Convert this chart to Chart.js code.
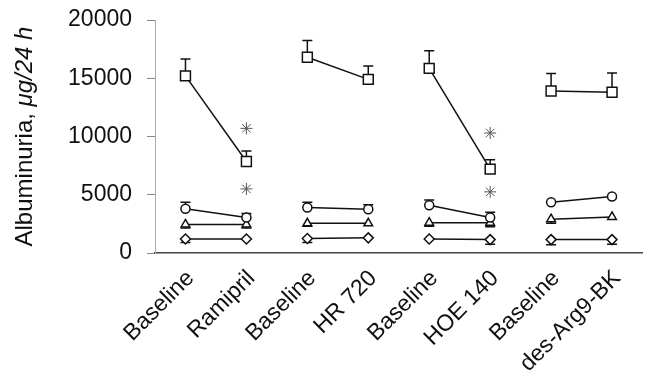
<!DOCTYPE html>
<html>
<head>
<meta charset="utf-8">
<script src="https://cdn.jsdelivr.net/npm/chart.js@4.4.0/dist/chart.umd.min.js"></script>
<style>
  html, body { margin: 0; padding: 0; background: #fff; }
  #wrap { width: 651px; height: 376px; }
</style>
</head>
<body>
<div id="wrap"><canvas class="js-chart"></canvas></div>
<script>
const labels = ['Baseline', 'Ramipril', 'Baseline', 'HR 720', 'Baseline', 'HOE 140', 'Baseline', 'des-Arg9-BK'];
const yTicks = [0, 5000, 10000, 15000, 20000];

const squares = [15200, 7850, 16800, 14900, 15850, 7200, 13900, 13800];
const squaresErr = [1450, 900, 1450, 1150, 1500, 800, 1500, 1650];
const circles = [3800, 3050, 3900, 3750, 4100, 3050, 4350, 4850];
const circlesErr = [550, 350, 450, 400, 450, 450, 0, 0];
const triangles = [2450, 2450, 2550, 2550, 2600, 2600, 2900, 3100];
const trianglesErr = [-300, -300, -250, 0, -300, -350, -350, 0]; // bars go below the mark
const diamonds = [1200, 1200, 1250, 1300, 1200, 1150, 1150, 1150];
const diamondsErr = [-300, 0, -350, 0, 0, -400, -450, -400];
const starsHigh = [null, 10700, null, null, null, 10300, null, null];
const starsLow = [null, 5500, null, null, null, 5250, null, null];

const ink = '#111';
const font = '"Liberation Sans", Arial, sans-serif';

// only baseline -> treatment pairs are joined
const pairsOnly = { borderColor: c => c.p0DataIndex % 2 ? 'rgba(0,0,0,0)' : ink };

const series = function(data, errors, style, radius){
    return {
        data: data,
        errors: errors,
        borderColor: ink,
        borderWidth: 1.5,
        pointStyle: style,
        pointRadius: radius,
        pointBackgroundColor: '#fff',
        pointBorderColor: ink,
        pointBorderWidth: 1.5,
        segment: pairsOnly
    }
}

const stars = function(data){
    return {
        data: data,
        showLine: false,
        pointStyle: 'star',
        pointRadius: 6,
        pointBorderColor: '#555',
        pointBorderWidth: 1
    }
}

const errorBars = {
    id: 'errorBars',
    beforeDatasetsDraw(chart){
        const ctx = chart.ctx;
        const y = chart.scales.y;
        chart.data.datasets.forEach((ds, di) => {
            if(!ds.errors) return;
            const meta = chart.getDatasetMeta(di);
            ds.errors.forEach((e, i) => {
                if(!e) return;
                const x = meta.data[i].x;
                const y0 = y.getPixelForValue(ds.data[i]);
                const y1 = y.getPixelForValue(ds.data[i] + e);
                ctx.save();
                ctx.strokeStyle = ink;
                ctx.lineWidth = 1.5;
                ctx.beginPath();
                ctx.moveTo(x, y0);
                ctx.lineTo(x, y1);
                ctx.moveTo(x - 5, y1);
                ctx.lineTo(x + 5, y1);
                ctx.stroke();
                ctx.restore();
            });
        });
    }
}

// y title with the unit in italics
const yTitle = {
    id: 'yTitle',
    afterDraw(chart){
        const ctx = chart.ctx;
        const area = chart.chartArea;
        const a = 'Albuminuria, ';
        const b = '\u03bcg/24 h';
        ctx.save();
        ctx.translate(32, (area.top + area.bottom) / 2);
        ctx.rotate(-Math.PI / 2);
        ctx.fillStyle = ink;
        ctx.textBaseline = 'alphabetic';
        ctx.font = '24px ' + font;
        const wa = ctx.measureText(a).width;
        ctx.font = 'italic 24px ' + font;
        const wb = ctx.measureText(b).width;
        let x = -(wa + wb) / 2;
        ctx.font = '24px ' + font;
        ctx.fillText(a, x, 0);
        ctx.font = 'italic 24px ' + font;
        ctx.fillText(b, x + wa, 0);
        ctx.restore();
    }
}

const config = {
    type: 'line',
    data: {
        labels: labels,
        datasets: [
            series(squares, squaresErr, 'rect', 7),
            series(circles, circlesErr, 'circle', 4.5),
            series(triangles, trianglesErr, 'triangle', 5),
            series(diamonds, diamondsErr, 'rectRot', 5),
            stars(starsHigh),
            stars(starsLow)
        ]
    },
    options: {
        responsive: true,
        maintainAspectRatio: false,
        animation: false,
        layout: { padding: { left: 0, top: 20, right: 1, bottom: 0 } },
        plugins: { legend: { display: false }, tooltip: { enabled: false } },
        scales: {
            x: {
                type: 'category',
                offset: true,
                afterFit: axis => { axis.height = 123 },
                grid: { display: false },
                border: { display: true, color: '#444', width: 1.5 },
                ticks: {
                    color: ink,
                    autoSkip: false,
                    minRotation: 45,
                    maxRotation: 45,
                    padding: 4,
                    labelOffset: 5,
                    font: { family: font, size: 23 }
                }
            },
            y: {
                min: 0,
                max: 20000,
                afterFit: axis => {
                    axis.width = 155;
                    axis.paddingTop = 0;
                    axis.paddingBottom = 0;
                },
                afterBuildTicks: axis => { axis.ticks = yTicks.map(v => ({ value: v })) },
                grid: { drawOnChartArea: false, drawTicks: true, tickLength: 8, color: '#888' },
                border: { display: true, color: '#aaa', width: 1 },
                ticks: {
                    color: ink,
                    padding: 15,
                    callback: v => String(v),
                    font: { family: font, size: 23 }
                }
            }
        }
    },
    plugins: [errorBars, yTitle]
}

const chart = new Chart(document.querySelector('.js-chart'), config)
</script>
</body>
</html>
